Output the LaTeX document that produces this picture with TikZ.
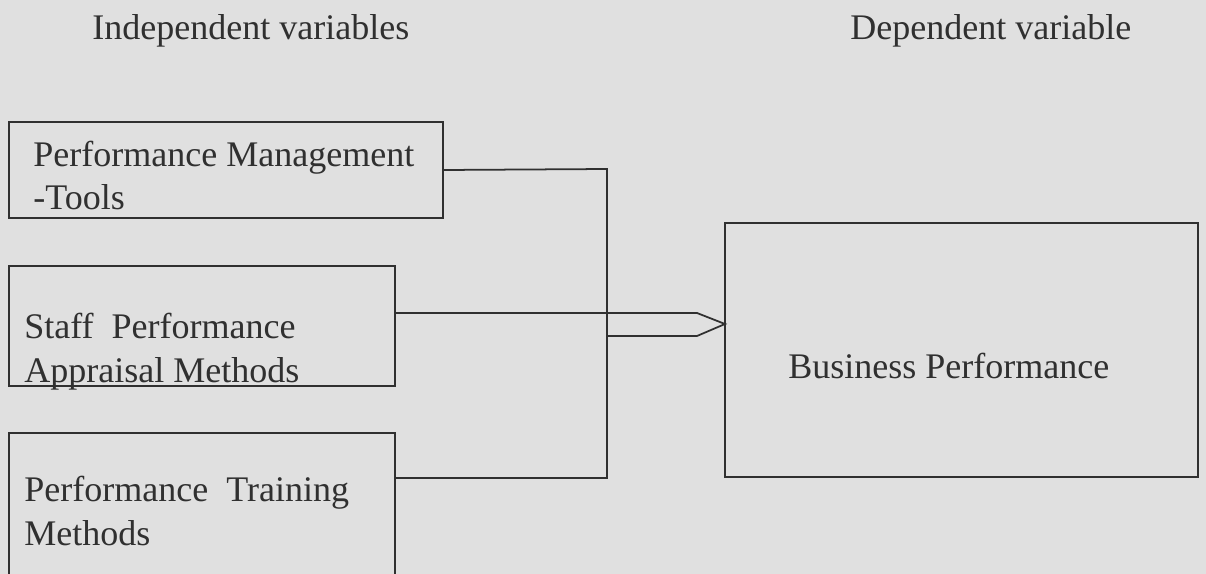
\documentclass[tikz,border=0pt]{standalone}
\usepackage{fontspec}
\setmainfont{Liberation Serif}
\usetikzlibrary{positioning}
\definecolor{paper}{RGB}{224,224,224}
\definecolor{ink}{RGB}{48,48,48}
\tikzset{
  varbox/.style={draw=ink, line width=1pt, inner sep=0pt, rectangle},
  boxtext/.style={text=ink, font=\fontsize{20.5}{24.5}\selectfont, anchor=base west, inner sep=0pt, align=left},
  link/.style={draw=ink, line width=1pt}
}
\begin{document}
\begin{tikzpicture}[x=0.02cm,y=-0.02cm]
\clip (0,0) rectangle (1206,574);
\fill[paper] (0,0) rectangle (1206,574);
% headings
\node[boxtext] (indep) at (92,40) {Independent variables};
\node[boxtext] (dep) at (850,40) {Dependent variable};
% independent variable boxes
\node[varbox, minimum width=8.68cm, minimum height=1.92cm] (tools) at (226,170) {};
\node[varbox, minimum width=7.72cm, minimum height=2.4cm] (appraisal) at (202,326) {};
\node[varbox, minimum width=7.72cm, minimum height=3.6cm] (training) at (202,523) {};
% multi-line labels sit on the baseline of their last line
\node[boxtext] (tools text) at (33,210) {Performance Management\\-Tools};
\node[boxtext] (appraisal text) at (24,382) {Staff~ Performance\\Appraisal Methods};
\node[boxtext] (training text) at (24,545) {Performance~ Training\\Methods};
% dependent variable box
\node[varbox, minimum width=9.46cm, minimum height=5.08cm] (business) at (961.5,350) {};
\node[boxtext] (business text) at (788,378) {Business Performance};
% connectors
\coordinate (jtop) at (607,169);
\coordinate (jbot) at (607,478);
\coordinate (jmid) at (607,336);
\coordinate (shaft top) at (697,313);
\coordinate (shaft bot) at (697,336);
\coordinate (tip) at (725,324);
\draw[link] (tools.east) -- (jtop) -- (jbot) -- (training.east |- jbot);
\draw[link] (appraisal.east |- shaft top) -- (shaft top) -- (tip) -- (shaft bot) -- (jmid);
\end{tikzpicture}
\end{document}
